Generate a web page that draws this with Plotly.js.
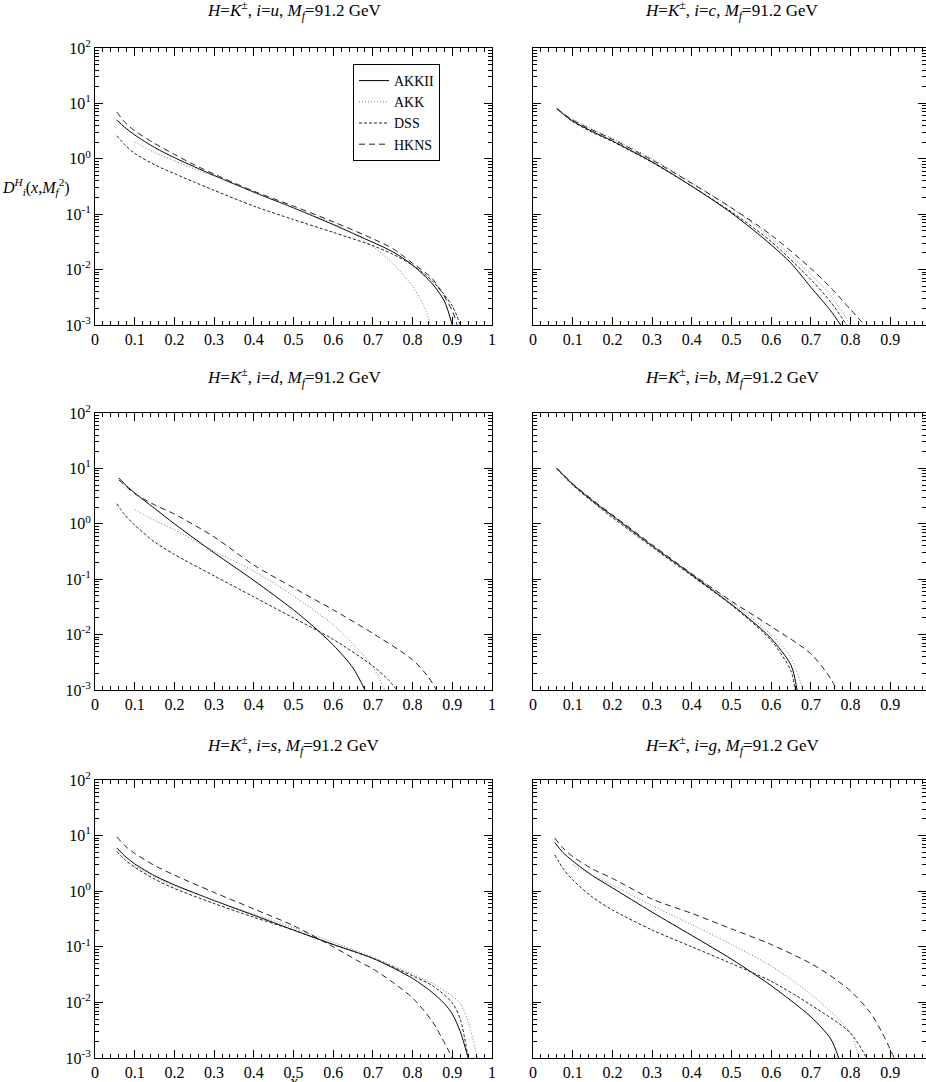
<!DOCTYPE html>
<html>
<head>
<meta charset="utf-8">
<script src="https://cdn.plot.ly/plotly-3.0.1.min.js"></script>
<style>html,body{margin:0;padding:0;background:#fff}#plot{width:926px;height:1082px}</style>
</head>
<body>
<div id="plot"></div>
<script>
// ---------- data ----------
const seriesNames = ["AKKII", "AKK", "DSS", "HKNS"];
const panelTitles = [
  "<i>H</i>=<i>K</i><sup>±</sup>, <i>i</i>=<i>u</i>, <i>M</i><sub><i>f</i></sub>=91.2 GeV",
  "<i>H</i>=<i>K</i><sup>±</sup>, <i>i</i>=<i>c</i>, <i>M</i><sub><i>f</i></sub>=91.2 GeV",
  "<i>H</i>=<i>K</i><sup>±</sup>, <i>i</i>=<i>d</i>, <i>M</i><sub><i>f</i></sub>=91.2 GeV",
  "<i>H</i>=<i>K</i><sup>±</sup>, <i>i</i>=<i>b</i>, <i>M</i><sub><i>f</i></sub>=91.2 GeV",
  "<i>H</i>=<i>K</i><sup>±</sup>, <i>i</i>=<i>s</i>, <i>M</i><sub><i>f</i></sub>=91.2 GeV",
  "<i>H</i>=<i>K</i><sup>±</sup>, <i>i</i>=<i>g</i>, <i>M</i><sub><i>f</i></sub>=91.2 GeV"
];
const xTickVals = [0,0.1,0.2,0.3,0.4,0.5,0.6,0.7,0.8,0.9,1];
const yTickVals = [0.001, 0.01, 0.1, 1, 10, 100];
const yTickText = ["10<sup>-3</sup>","10<sup>-2</sup>","10<sup>-1</sup>","10<sup>0</sup>","10<sup>1</sup>","10<sup>2</sup>"];

// panel u
const u_AKKII_x = [0.055,0.075,0.1,0.15,0.2,0.25,0.3,0.4,0.5,0.6,0.7,0.75,0.8,0.85,0.88,0.9];
const u_AKKII_y = [5.0,3.7,2.7,1.6,1.05,0.72,0.5,0.25,0.13,0.065,0.031,0.021,0.012,0.0055,0.0027,0.001];
const u_AKK_x   = [0.1,0.15,0.2,0.25,0.3,0.4,0.5,0.6,0.65,0.7,0.75,0.8,0.83,0.845];
const u_AKK_y   = [2.0,1.3,0.92,0.66,0.49,0.25,0.13,0.068,0.045,0.026,0.013,0.005,0.0021,0.001];
const u_DSS_x   = [0.055,0.075,0.1,0.15,0.2,0.25,0.3,0.4,0.5,0.6,0.7,0.75,0.8,0.85,0.9,0.92];
const u_DSS_y   = [2.6,1.8,1.25,0.78,0.54,0.38,0.27,0.14,0.08,0.047,0.027,0.019,0.012,0.0062,0.0022,0.001];
const u_HKNS_x  = [0.055,0.075,0.1,0.15,0.2,0.25,0.3,0.4,0.5,0.6,0.7,0.75,0.8,0.85,0.9,0.912];
const u_HKNS_y  = [7.0,4.6,3.2,1.9,1.2,0.78,0.53,0.26,0.14,0.073,0.036,0.024,0.013,0.0068,0.0018,0.001];

// panel c
const c_AKKII_x = [0.06,0.1,0.15,0.2,0.3,0.4,0.5,0.6,0.65,0.7,0.75,0.775];
const c_AKKII_y = [8.0,4.8,3.1,2.1,0.88,0.32,0.105,0.028,0.013,0.0048,0.0018,0.001];
const c_AKK_x   = [0.1,0.15,0.2,0.3,0.4,0.5,0.6,0.7,0.75,0.8];
const c_AKK_y   = [5.2,3.4,2.35,1.0,0.37,0.13,0.037,0.0082,0.0034,0.001];
const c_DSS_x   = [0.06,0.1,0.15,0.2,0.3,0.4,0.5,0.6,0.7,0.75,0.79];
const c_DSS_y   = [8.0,4.7,3.0,2.05,0.86,0.32,0.11,0.032,0.0066,0.0026,0.001];
const c_HKNS_x  = [0.06,0.1,0.15,0.2,0.3,0.4,0.5,0.6,0.7,0.75,0.8,0.835];
const c_HKNS_y  = [8.1,5.0,3.3,2.25,0.95,0.36,0.13,0.042,0.0105,0.0047,0.0019,0.001];

// panel d
const d_AKKII_x = [0.06,0.08,0.1,0.15,0.2,0.3,0.4,0.5,0.55,0.6,0.65,0.68];
const d_AKKII_y = [6.7,4.8,3.6,1.9,1.0,0.3,0.095,0.028,0.014,0.0065,0.0025,0.001];
const d_AKK_x   = [0.1,0.15,0.2,0.3,0.4,0.5,0.6,0.65,0.7,0.73];
const d_AKK_y   = [1.8,1.15,0.78,0.32,0.14,0.05,0.015,0.0068,0.0026,0.001];
const d_DSS_x   = [0.055,0.075,0.1,0.15,0.2,0.3,0.4,0.5,0.6,0.7,0.74,0.76];
const d_DSS_y   = [2.3,1.45,0.95,0.47,0.28,0.115,0.048,0.02,0.0082,0.0027,0.0015,0.001];
const d_HKNS_x  = [0.06,0.08,0.1,0.15,0.2,0.3,0.4,0.5,0.6,0.7,0.8,0.84,0.86];
const d_HKNS_y  = [6.2,4.6,3.5,2.2,1.5,0.58,0.18,0.07,0.028,0.0105,0.0035,0.0017,0.001];

// panel b
const b_AKKII_x = [0.06,0.1,0.15,0.2,0.3,0.4,0.5,0.55,0.6,0.65,0.665];
const b_AKKII_y = [10,5.2,2.6,1.4,0.4,0.12,0.035,0.018,0.0085,0.0028,0.001];
const b_AKK_x   = [0.1,0.15,0.2,0.3,0.4,0.5,0.6,0.65,0.68];
const b_AKK_y   = [5.0,2.5,1.35,0.4,0.125,0.038,0.01,0.0038,0.001];
const b_DSS_x   = [0.06,0.1,0.15,0.2,0.3,0.4,0.5,0.6,0.65,0.66];
const b_DSS_y   = [9.8,5.0,2.5,1.3,0.38,0.115,0.034,0.0078,0.0022,0.001];
const b_HKNS_x  = [0.06,0.1,0.15,0.2,0.3,0.4,0.5,0.6,0.7,0.75,0.765];
const b_HKNS_y  = [10,5.3,2.7,1.45,0.42,0.125,0.04,0.014,0.0045,0.0016,0.001];

// panel s
const s_AKKII_x = [0.055,0.075,0.1,0.15,0.2,0.3,0.4,0.5,0.6,0.7,0.8,0.85,0.88,0.9,0.92,0.94];
const s_AKKII_y = [6.0,4.3,3.1,1.9,1.3,0.68,0.37,0.2,0.11,0.062,0.027,0.015,0.0095,0.0062,0.003,0.001];
const s_AKK_x   = [0.1,0.15,0.2,0.3,0.4,0.5,0.6,0.7,0.8,0.85,0.9,0.92,0.94,0.963];
const s_AKK_y   = [2.9,1.8,1.25,0.68,0.39,0.22,0.12,0.065,0.032,0.022,0.013,0.0095,0.0045,0.001];
const s_DSS_x   = [0.055,0.075,0.1,0.15,0.2,0.3,0.4,0.5,0.6,0.7,0.8,0.85,0.9,0.92,0.94];
const s_DSS_y   = [5.2,3.7,2.7,1.65,1.12,0.6,0.34,0.2,0.11,0.062,0.03,0.02,0.0098,0.005,0.001];
const s_HKNS_x  = [0.055,0.075,0.1,0.15,0.2,0.3,0.4,0.5,0.6,0.66,0.7,0.75,0.8,0.85,0.9];
const s_HKNS_y  = [9.5,6.6,4.8,2.9,1.95,0.95,0.48,0.24,0.1,0.057,0.04,0.023,0.012,0.0045,0.001];

// panel g
const g_AKKII_x = [0.055,0.075,0.1,0.15,0.2,0.3,0.4,0.5,0.55,0.6,0.7,0.75,0.77];
const g_AKKII_y = [7.5,5.0,3.5,1.9,1.15,0.42,0.16,0.06,0.035,0.02,0.0055,0.0022,0.001];
const g_AKK_x   = [0.1,0.15,0.2,0.3,0.4,0.5,0.6,0.7,0.8,0.82];
const g_AKK_y   = [3.0,1.9,1.3,0.55,0.25,0.11,0.045,0.014,0.0028,0.001];
const g_DSS_x   = [0.055,0.075,0.1,0.15,0.2,0.3,0.4,0.5,0.55,0.6,0.7,0.8,0.84];
const g_DSS_y   = [4.5,2.6,1.6,0.78,0.46,0.2,0.1,0.05,0.035,0.024,0.009,0.0028,0.001];
const g_HKNS_x  = [0.055,0.075,0.1,0.15,0.2,0.3,0.4,0.5,0.6,0.7,0.75,0.8,0.85,0.88,0.91];
const g_HKNS_y  = [9.0,6.0,4.2,2.5,1.7,0.72,0.4,0.21,0.11,0.05,0.03,0.016,0.0065,0.0028,0.001];

// ---------- build ----------
const panels = [
  [[u_AKKII_x,u_AKKII_y],[u_AKK_x,u_AKK_y],[u_DSS_x,u_DSS_y],[u_HKNS_x,u_HKNS_y]],
  [[c_AKKII_x,c_AKKII_y],[c_AKK_x,c_AKK_y],[c_DSS_x,c_DSS_y],[c_HKNS_x,c_HKNS_y]],
  [[d_AKKII_x,d_AKKII_y],[d_AKK_x,d_AKK_y],[d_DSS_x,d_DSS_y],[d_HKNS_x,d_HKNS_y]],
  [[b_AKKII_x,b_AKKII_y],[b_AKK_x,b_AKK_y],[b_DSS_x,b_DSS_y],[b_HKNS_x,b_HKNS_y]],
  [[s_AKKII_x,s_AKKII_y],[s_AKK_x,s_AKK_y],[s_DSS_x,s_DSS_y],[s_HKNS_x,s_HKNS_y]],
  [[g_AKKII_x,g_AKKII_y],[g_AKK_x,g_AKK_y],[g_DSS_x,g_DSS_y],[g_HKNS_x,g_HKNS_y]]
];
const styles = [
  {color:'#000', dash:'solid', width:1},
  {color:'#777', dash:'1px,2px', width:1},
  {color:'#222', dash:'3px,2px', width:1},
  {color:'#222', dash:'6px,4px', width:1}
];

const W = 926, H = 1082;
const colX = [[95,492],[533,926]];
const rowY = [[48,325],[413,690],[780,1058]];
const FONT = 'Liberation Serif, Times New Roman, serif';

const traces = [];
const layout = {
  width: W, height: H,
  margin: {l:0, r:0, t:0, b:0},
  paper_bgcolor: '#fff', plot_bgcolor: '#fff',
  font: {family: FONT, color: '#000', size: 15},
  showlegend: true,
  legend: {x: 353/W, y: 1-64/H, xanchor:'left', yanchor:'top',
           bordercolor:'#000', borderwidth:1, bgcolor:'#fff',
           font:{family:FONT, size:14, color:'#000'}, tracegroupgap:0, itemwidth:30},
  annotations: []
};

const minorLog = [];
for (let e = -3; e < 2; e++) for (let m = 2; m <= 9; m++) minorLog.push(m*Math.pow(10,e));

for (let p = 0; p < 6; p++) {
  const col = p % 2, row = Math.floor(p/2);
  const n = p + 1;
  const xs = n === 1 ? 'x' : 'x'+n, ys = n === 1 ? 'y' : 'y'+n;
  const xk = n === 1 ? 'xaxis' : 'xaxis'+n, yk = n === 1 ? 'yaxis' : 'yaxis'+n;
  const xd = [colX[col][0]/W, colX[col][1]/W];
  const yd = [1-rowY[row][1]/H, 1-rowY[row][0]/H];
  layout[xk] = {
    domain: xd, anchor: ys,
    range: col === 0 ? [0,1] : [0,(926-533)/397],
    tickmode:'array', tickvals: xTickVals,
    ticks:'inside', ticklen:8, tickwidth:1, tickcolor:'#000',
    minor:{ticks:'inside', ticklen:4, tickwidth:1, tickcolor:'#000', dtick:0.02, tick0:0},
    showline:true, linecolor:'#000', linewidth:1, mirror:'allticks',
    showgrid:false, zeroline:false,
    tickfont:{family:FONT, size:16, color:'#000'}
  };
  layout[yk] = {
    domain: yd, anchor: xs, type:'log', range:[-3,2],
    tickmode:'array', tickvals: yTickVals, ticktext: yTickText,
    showticklabels: col === 0,
    ticks:'inside', ticklen:8, tickwidth:1, tickcolor:'#000',
    minor:{ticks:'inside', ticklen:4, tickwidth:1, tickcolor:'#000', tickmode:'array', tickvals:minorLog},
    showline:true, linecolor:'#000', linewidth:1, mirror:'allticks',
    showgrid:false, zeroline:false,
    tickfont:{family:FONT, size:16, color:'#000'}
  };
  panels[p].forEach((s, i) => {
    traces.push({
      x: s[0], y: s[1], xaxis: xs, yaxis: ys, type:'scatter', mode:'lines',
      name: seriesNames[i], showlegend: p === 0,
      line: Object.assign({shape:'spline', smoothing:0.8}, styles[i]),
      hoverinfo:'skip'
    });
  });
  const titleY = [10, 377, 745][row];
  layout.annotations.push({
    xref:'paper', yref:'paper', x:(colX[col][0] + 397/2)/W, y:1-titleY/H,
    xanchor:'center', yanchor:'middle', showarrow:false,
    text: panelTitles[p], font:{family:FONT, size:17, color:'#000'}
  });
}

layout.annotations.push({
  xref:'paper', yref:'paper', x:0, y:1-187/H, xanchor:'left', yanchor:'middle', showarrow:false,
  text:'<i>D</i><sup><i>H</i></sup><sub><i>i</i></sub>(<i>x</i>,<i>M</i><sub><i>f</i></sub><sup>2</sup>)',
  font:{family:FONT, size:16, color:'#000'}
});
layout.annotations.push({
  xref:'paper', yref:'paper', x:293/W, y:1-1070/H, xanchor:'center', yanchor:'top', showarrow:false,
  text:'<i>x</i>', font:{family:FONT, size:17, color:'#000'}
});

Plotly.newPlot('plot', traces, layout, {displayModeBar:false, staticPlot:true});
</script>
</body>
</html>
